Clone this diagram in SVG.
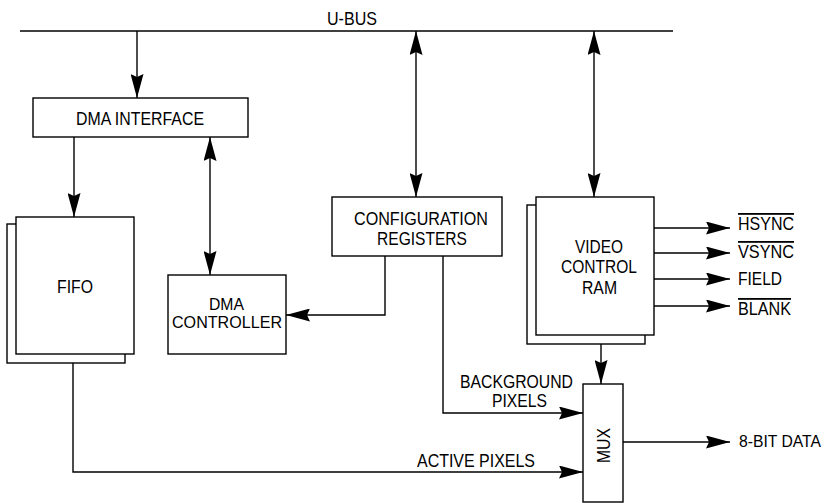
<svg xmlns="http://www.w3.org/2000/svg" width="828" height="503" viewBox="0 0 828 503">
<style>
  rect.box { fill: #fff; stroke: #000; stroke-width: 1.4; }
  .conn line, .conn path { fill: none; stroke: #000; stroke-width: 1.4; }
  text { font-family: "Liberation Sans", Arial, sans-serif; font-size: 18px; fill: #000; }
  .ol { text-decoration: overline; }
</style>
<defs>
  <marker id="ah" viewBox="0 0 24 13" refX="24" refY="6.5" markerWidth="24" markerHeight="13" markerUnits="userSpaceOnUse" orient="auto-start-reverse">
    <path d="M0,0 L24,6.5 L0,13 L3,6.5 z" fill="#000"/>
  </marker>
</defs>
<rect width="828" height="503" fill="#fff"/>

<g id="ubus">
  <line x1="20" y1="31" x2="673" y2="31" stroke="#000" stroke-width="1.4"/>
  <text x="327" y="25" textLength="50" lengthAdjust="spacingAndGlyphs">U-BUS</text>
</g>

<g class="conn" id="connectors">
  <line x1="137" y1="31" x2="137" y2="98" marker-end="url(#ah)"/>
  <line x1="74" y1="137" x2="74" y2="217" marker-end="url(#ah)"/>
  <line x1="210" y1="137" x2="210" y2="275" marker-start="url(#ah)" marker-end="url(#ah)"/>
  <line x1="416" y1="31" x2="416" y2="197" marker-start="url(#ah)" marker-end="url(#ah)"/>
  <line x1="594" y1="31" x2="594" y2="197" marker-start="url(#ah)" marker-end="url(#ah)"/>
  <path d="M385,256 V315 H286" marker-end="url(#ah)"/>
  <path d="M443,256 V413 H583" marker-end="url(#ah)"/>
  <path d="M73,363 V472 H583" marker-end="url(#ah)"/>
  <line x1="601" y1="344" x2="601" y2="384" marker-end="url(#ah)"/>
  <line x1="623" y1="442" x2="730" y2="442" marker-end="url(#ah)"/>
  <line x1="654" y1="228" x2="730" y2="228" marker-end="url(#ah)"/>
  <line x1="654" y1="253" x2="730" y2="253" marker-end="url(#ah)"/>
  <line x1="654" y1="279" x2="730" y2="279" marker-end="url(#ah)"/>
  <line x1="654" y1="306" x2="730" y2="306" marker-end="url(#ah)"/>
</g>

<g id="dma-interface">
  <rect class="box" x="33" y="98" width="215" height="39"/>
  <text x="76" y="125" textLength="128" lengthAdjust="spacingAndGlyphs">DMA INTERFACE</text>
</g>

<g id="fifo">
  <rect class="box" x="7" y="224" width="118" height="139"/>
  <rect class="box" x="16" y="217" width="118" height="137"/>
  <text x="57" y="293" textLength="36" lengthAdjust="spacingAndGlyphs">FIFO</text>
</g>

<g id="dma-controller">
  <rect class="box" x="168" y="275" width="118" height="79"/>
  <text x="209" y="310" textLength="35" lengthAdjust="spacingAndGlyphs" style="font-size:17px">DMA</text>
  <text x="172" y="328" textLength="110" lengthAdjust="spacingAndGlyphs" style="font-size:17px">CONTROLLER</text>
</g>

<g id="config-registers">
  <rect class="box" x="332" y="197" width="170" height="59"/>
  <text x="354" y="225" textLength="134" lengthAdjust="spacingAndGlyphs">CONFIGURATION</text>
  <text x="377" y="245" textLength="90" lengthAdjust="spacingAndGlyphs">REGISTERS</text>
</g>

<g id="video-control-ram">
  <rect class="box" x="527" y="205" width="118" height="139"/>
  <rect class="box" x="536" y="197" width="118" height="138"/>
  <text x="575" y="253" textLength="48" lengthAdjust="spacingAndGlyphs">VIDEO</text>
  <text x="561" y="273" textLength="76" lengthAdjust="spacingAndGlyphs">CONTROL</text>
  <text x="582" y="294" textLength="35" lengthAdjust="spacingAndGlyphs">RAM</text>
</g>

<g id="sync-outputs">
  <text x="738" y="230" textLength="56" lengthAdjust="spacingAndGlyphs" class="ol">HSYNC</text>
  <text x="738" y="258" textLength="56" lengthAdjust="spacingAndGlyphs" class="ol">VSYNC</text>
  <text x="738" y="285" textLength="44" lengthAdjust="spacingAndGlyphs">FIELD</text>
  <text x="738" y="315" textLength="53" lengthAdjust="spacingAndGlyphs" class="ol">BLANK</text>
</g>

<g id="mux">
  <rect class="box" x="583" y="384" width="40" height="118"/>
  <text transform="translate(610,445.5) rotate(-90)" x="0" y="0" text-anchor="middle" textLength="35" lengthAdjust="spacingAndGlyphs">MUX</text>
</g>

<g id="labels">
  <text x="460" y="388" textLength="113" lengthAdjust="spacingAndGlyphs">BACKGROUND</text>
  <text x="492" y="407" textLength="55" lengthAdjust="spacingAndGlyphs">PIXELS</text>
  <text x="417" y="467" textLength="118" lengthAdjust="spacingAndGlyphs">ACTIVE PIXELS</text>
  <text x="739" y="447" textLength="82" lengthAdjust="spacingAndGlyphs" style="font-size:16px">8-BIT DATA</text>
</g>
</svg>
